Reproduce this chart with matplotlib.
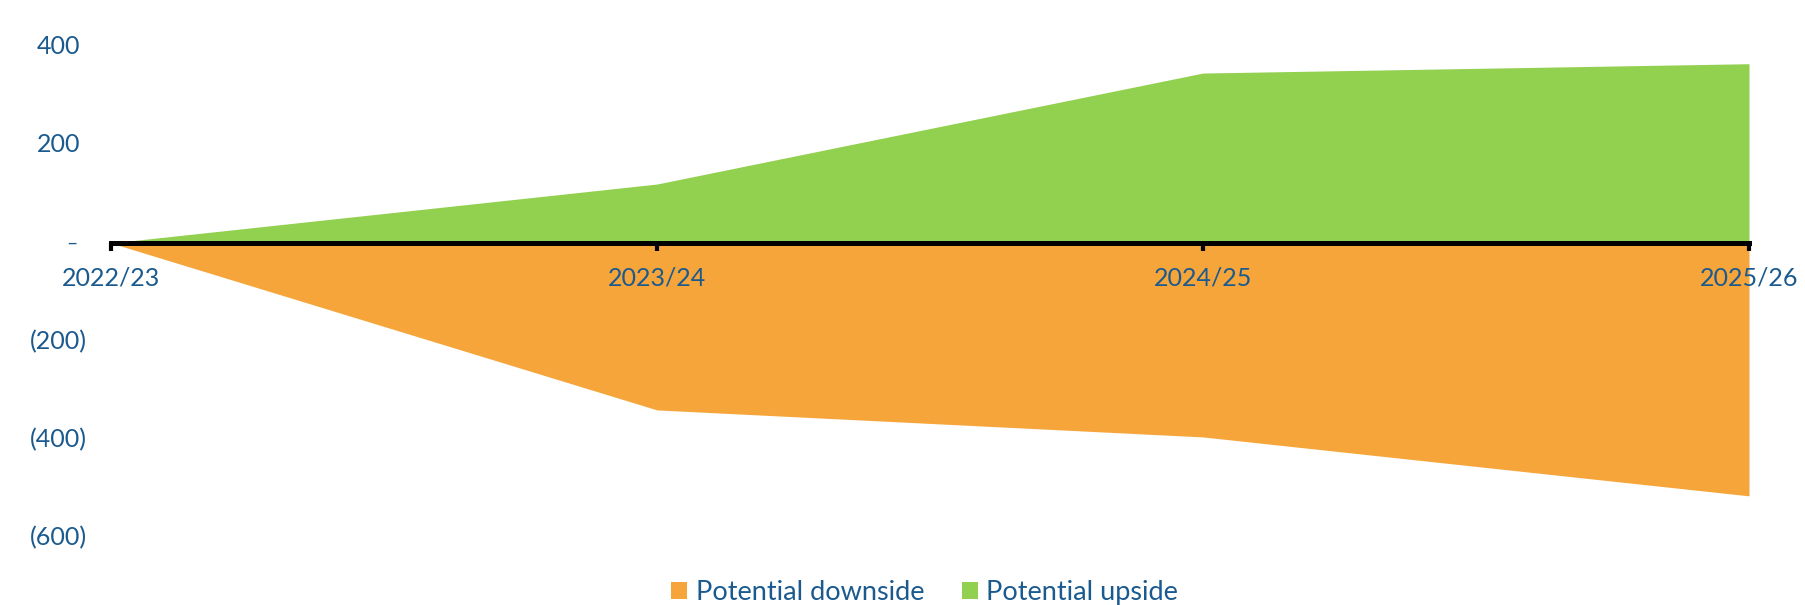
import matplotlib
matplotlib.use("Agg")
import matplotlib.pyplot as plt
import matplotlib.transforms as mtransforms
from matplotlib.patches import Patch

years = ["2022/23", "2023/24", "2024/25", "2025/26"]
upside = [0, 120, 346, 365]
downside = [0, -340, -395, -515]
ytick_values = [400, 200, 0, -200, -400, -600]
ytick_labels = ["400", "200", "-", "(200)", "(400)", "(600)"]

GREEN = "#92D050"
ORANGE = "#F6A53A"
TEXT = "#1B5A8E"
FONT = "Lato"

plt.rcParams["font.family"] = [FONT, "DejaVu Sans"]

fig = plt.figure(figsize=(18.06, 6.05), dpi=100)
ax = fig.add_axes([111 / 1806, 45 / 605, (1749 - 111) / 1806, 540 / 605])

x = list(range(len(years)))
ax.fill_between(x, 0, downside, color=ORANGE, linewidth=0, zorder=1)
ax.fill_between(x, 0, upside, color=GREEN, linewidth=0, zorder=1)

ax.set_xlim(0, len(years) - 1)
ax.set_ylim(-645.6, 454)

for s in ["top", "right", "left"]:
    ax.spines[s].set_visible(False)
ax.spines["bottom"].set_position(("data", 0))
ax.spines["bottom"].set_linewidth(3.6)
ax.spines["bottom"].set_color("black")
ax.spines["bottom"].set_zorder(3)
ax.spines["bottom"].set_capstyle("projecting")

ax.set_xticks(x)
ax.set_xticklabels(years, fontsize=18, color=TEXT)
ax.tick_params(axis="x", direction="out", length=6, width=3, color="black", pad=11)
ax.set_yticks([])

trans = mtransforms.blended_transform_factory(fig.transFigure, ax.transData)
for v, lab in zip(ytick_values, ytick_labels):
    if v > 0:
        ax.text(80 / 1806, v, lab, transform=trans, ha="right", va="center",
                fontsize=18, color=TEXT)
    elif v == 0:
        ax.text(72 / 1806, v, "–", transform=trans, ha="center", va="center",
                fontsize=14, color=TEXT)
    else:
        ax.text(87 / 1806, v, lab, transform=trans, ha="right", va="center",
                fontsize=18, color=TEXT)

handles = [Patch(facecolor=ORANGE, edgecolor="none", label="Potential downside"),
           Patch(facecolor=GREEN, edgecolor="none", label="Potential upside")]
leg = fig.legend(handles=handles, loc="center", bbox_to_anchor=(0.512, 0.021),
                 ncol=2, frameon=False, fontsize=19.5, handlelength=0.6,
                 handleheight=0.6, handletextpad=0.3, columnspacing=1.4)
for t in leg.get_texts():
    t.set_color(TEXT)

fig.savefig("out.png", dpi=100)
